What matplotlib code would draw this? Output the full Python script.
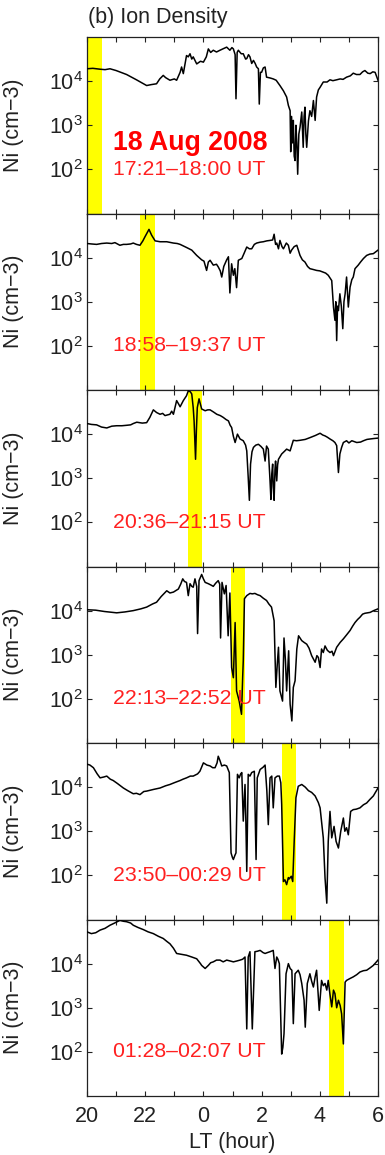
import numpy as np
import matplotlib
matplotlib.use("Agg")
import matplotlib.pyplot as plt

plt.rcParams['font.family'] = ['Liberation Sans', 'DejaVu Sans']
plt.rcParams['mathtext.fontset'] = 'custom'
plt.rcParams['mathtext.rm'] = 'Liberation Sans'
plt.rcParams['mathtext.it'] = 'Liberation Sans:italic'
plt.rcParams['mathtext.bf'] = 'Liberation Sans:bold'

# ---------------- data (LT in hours, 24 = midnight; log10 of Ni) ----------------
lt_p1 = [20.00,20.20,20.45,20.62,20.79,21.00,21.36,21.70,22.05,22.20,22.39,22.50,22.62,22.70,22.85,23.00,23.08,23.20,23.25,23.31,23.42,23.48,23.54,23.60,23.65,23.77,23.90,24.00,24.10,24.17,24.25,24.34,24.45,24.57,24.70,24.80,24.91,24.98,25.03,25.09,25.12,25.16,25.20,25.30,25.37,25.45,25.49,25.55,25.60,25.66,25.72,25.78,25.83,25.89,25.92,25.96,26.00,26.06,26.12,26.17,26.30,26.40,26.50,26.63,26.75,26.86,26.92,26.98,27.00,27.03,27.06,27.09,27.12,27.15,27.18,27.21,27.24,27.28,27.32,27.38,27.43,27.46,27.49,27.52,27.55,27.61,27.66,27.72,27.78,27.84,27.89,27.95,28.01,28.12,28.25,28.35,28.45,28.58,28.70,28.80,28.92,29.05,29.15,29.26,29.38,29.47,29.55,29.65,29.73,29.82,29.90,30.00]
log_p1 = [4.28,4.29,4.27,4.26,4.28,4.24,4.15,4.03,3.90,3.92,3.94,4.05,4.13,4.08,4.02,4.05,4.02,4.20,4.32,4.17,4.58,4.55,4.62,4.50,4.55,4.39,4.45,4.43,4.55,4.73,4.65,4.70,4.66,4.70,4.74,4.77,4.70,4.76,4.73,4.60,3.60,4.65,4.70,4.62,4.62,4.50,4.51,4.60,4.55,4.40,4.47,4.40,4.32,4.28,3.48,4.20,4.20,4.30,4.32,4.09,4.07,4.05,4.02,3.90,3.78,3.64,3.45,3.33,2.40,3.20,2.60,3.11,2.30,2.20,3.00,2.60,1.89,2.80,2.95,3.30,2.50,3.20,3.41,2.80,2.50,3.10,3.33,3.20,3.56,3.11,3.64,3.80,3.86,3.98,3.98,4.03,4.01,4.03,4.05,4.04,4.09,4.12,4.18,4.15,4.15,4.21,4.24,4.18,4.17,4.21,4.20,4.02]

lt_p2 = [20.00,20.15,20.33,20.50,20.68,20.85,20.96,21.13,21.25,21.36,21.50,21.59,21.70,21.82,21.92,21.99,22.13,22.22,22.34,22.51,22.74,22.97,23.10,23.20,23.42,23.60,23.77,23.94,24.02,24.11,24.17,24.23,24.34,24.45,24.51,24.58,24.63,24.70,24.74,24.80,24.86,24.91,24.97,25.03,25.08,25.14,25.20,25.32,25.40,25.49,25.58,25.66,25.75,25.83,25.95,26.06,26.18,26.29,26.38,26.43,26.48,26.52,26.58,26.63,26.70,26.75,26.85,26.92,26.98,27.03,27.12,27.21,27.32,27.40,27.49,27.58,27.66,27.78,27.89,28.00,28.12,28.20,28.29,28.41,28.47,28.52,28.55,28.58,28.61,28.64,28.69,28.74,28.79,28.83,28.87,28.92,28.98,29.04,29.10,29.15,29.21,29.32,29.40,29.50,29.61,29.72,29.84,30.00]
log_p2 = [4.32,4.31,4.30,4.32,4.33,4.32,4.34,4.28,4.30,4.30,4.31,4.33,4.30,4.28,4.38,4.47,4.64,4.51,4.38,4.36,4.36,4.33,4.32,4.30,4.23,4.17,4.05,3.95,3.92,3.71,3.90,3.94,3.83,3.85,3.79,3.70,3.56,3.80,3.86,3.95,4.02,3.20,3.86,3.60,3.75,3.32,3.94,3.98,4.10,4.24,4.20,4.20,4.30,4.33,4.35,4.36,4.38,4.39,4.40,4.53,4.30,4.33,4.20,4.39,4.25,4.20,4.33,4.28,4.10,4.17,4.25,4.28,4.05,3.95,3.90,3.80,3.75,3.73,3.71,3.70,3.67,3.65,3.60,3.48,2.88,2.58,3.00,2.12,2.90,2.80,3.18,2.90,2.39,3.00,3.18,3.56,2.88,3.33,3.50,3.56,3.75,3.83,3.90,3.98,4.05,4.08,4.09,4.17]

lt_p3 = [20.00,20.15,20.33,20.50,20.68,20.85,21.02,21.20,21.36,21.50,21.59,21.71,21.90,22.05,22.16,22.28,22.39,22.51,22.60,22.68,22.85,22.91,22.97,23.08,23.15,23.20,23.31,23.42,23.48,23.55,23.60,23.65,23.68,23.73,23.76,23.79,23.85,23.94,24.06,24.15,24.23,24.35,24.46,24.58,24.68,24.78,24.86,24.92,24.97,25.03,25.09,25.17,25.26,25.37,25.45,25.49,25.54,25.58,25.62,25.67,25.72,25.80,25.89,25.98,26.06,26.12,26.17,26.23,26.29,26.32,26.35,26.38,26.40,26.43,26.46,26.48,26.52,26.55,26.58,26.69,26.80,26.86,26.98,27.09,27.20,27.32,27.50,27.66,27.85,28.01,28.10,28.18,28.26,28.35,28.45,28.52,28.58,28.64,28.69,28.75,28.81,28.92,29.00,29.10,29.27,29.40,29.50,29.62,29.73,29.85,30.00]
log_p3 = [4.24,4.22,4.21,4.16,4.14,4.18,4.19,4.19,4.20,4.21,4.24,4.27,4.25,4.26,4.38,4.55,4.49,4.45,4.47,4.42,4.45,4.52,4.45,4.76,4.68,4.62,4.76,4.87,4.98,4.96,4.91,4.60,4.30,3.43,4.10,4.60,4.80,4.57,4.53,4.55,4.55,4.50,4.45,4.42,4.38,4.33,4.30,4.20,4.15,3.95,3.81,4.00,3.89,3.85,3.75,3.62,3.02,2.50,3.32,3.60,3.70,3.75,3.77,3.72,3.66,3.39,3.73,3.66,2.94,2.52,3.10,3.32,2.80,2.50,3.20,3.39,2.94,3.30,3.43,3.55,3.62,3.66,3.62,3.86,3.85,3.86,3.88,3.92,3.97,4.02,3.98,3.96,3.93,3.89,3.85,3.81,3.74,3.13,3.55,3.70,3.81,3.85,3.80,3.85,3.81,3.82,3.85,3.88,3.89,3.90,3.91]

lt_p4 = [20.00,20.30,20.60,21.02,21.30,21.59,21.85,22.05,22.25,22.39,22.55,22.74,22.85,22.97,23.14,23.22,23.29,23.35,23.42,23.48,23.54,23.60,23.65,23.71,23.77,23.80,23.85,23.94,24.00,24.06,24.17,24.26,24.34,24.42,24.51,24.56,24.59,24.64,24.72,24.78,24.85,24.91,24.97,25.03,25.09,25.14,25.23,25.31,25.35,25.37,25.41,25.49,25.60,25.68,25.77,25.86,25.95,26.06,26.17,26.25,26.34,26.43,26.49,26.54,26.58,26.63,26.72,26.77,26.82,26.86,26.93,26.98,27.04,27.09,27.15,27.21,27.27,27.38,27.46,27.55,27.63,27.72,27.84,27.90,27.95,28.01,28.06,28.12,28.18,28.26,28.35,28.42,28.47,28.58,28.70,28.81,28.92,29.04,29.13,29.21,29.30,29.38,29.47,29.55,29.64,29.73,29.85,30.00]
log_p4 = [4.02,4.01,3.98,3.95,3.97,4.00,4.04,4.08,4.15,4.19,4.32,4.45,4.40,4.42,4.49,4.60,4.72,4.66,4.64,4.34,4.61,4.55,4.53,4.72,4.55,3.48,4.68,4.82,4.72,4.64,4.61,4.58,4.55,4.62,4.68,4.60,3.38,4.64,4.38,4.57,3.43,4.40,2.71,2.48,3.73,2.18,1.95,1.65,2.50,2.86,4.27,4.34,4.39,4.38,4.39,4.36,4.34,4.28,4.23,4.15,4.08,3.77,2.26,2.80,3.17,2.18,1.95,3.38,2.86,2.18,3.09,1.88,1.50,2.26,2.41,3.13,3.43,3.32,3.28,3.24,3.15,2.98,2.83,2.98,2.94,2.71,3.13,3.05,3.20,3.10,3.05,3.08,2.98,3.17,3.28,3.36,3.45,3.55,3.65,3.73,3.80,3.85,3.92,3.94,3.95,3.96,4.00,4.04]

lt_p5 = [20.00,20.10,20.22,20.35,20.45,20.58,20.68,20.80,20.90,21.05,21.25,21.40,21.59,21.70,21.82,21.95,22.05,22.30,22.51,22.70,22.85,23.00,23.20,23.30,23.42,23.55,23.65,23.80,23.88,24.00,24.12,24.23,24.32,24.40,24.47,24.51,24.57,24.63,24.72,24.80,24.89,24.95,25.00,25.03,25.08,25.12,25.17,25.23,25.28,25.32,25.37,25.43,25.46,25.49,25.54,25.60,25.66,25.75,25.81,25.85,25.95,26.05,26.12,26.18,26.23,26.29,26.35,26.40,26.46,26.54,26.61,26.66,26.69,26.75,26.80,26.86,26.92,26.95,27.02,27.07,27.12,27.18,27.26,27.38,27.50,27.61,27.72,27.84,27.95,28.01,28.12,28.18,28.24,28.29,28.35,28.41,28.49,28.56,28.64,28.72,28.81,28.86,28.92,28.98,29.06,29.15,29.25,29.38,29.50,29.61,29.72,29.84,30.00]
log_p5 = [4.52,4.50,4.44,4.30,4.21,4.23,4.25,4.18,4.15,4.08,3.98,3.92,3.85,3.86,3.83,3.90,3.91,3.95,3.98,4.03,4.06,4.10,4.15,4.18,4.21,4.25,4.25,4.30,4.36,4.55,4.50,4.48,4.44,4.44,4.55,4.70,4.60,4.48,4.50,4.48,4.33,2.51,2.40,2.36,2.45,2.51,4.29,4.21,4.30,4.33,3.23,4.06,3.20,2.09,4.29,4.25,4.33,4.36,2.36,4.21,4.40,4.45,4.50,3.92,3.15,4.21,4.25,3.53,4.21,4.25,4.25,4.10,3.61,1.86,1.90,1.79,1.95,1.92,1.98,1.86,2.77,3.76,4.02,4.06,4.00,3.92,3.88,3.80,3.65,3.53,2.85,1.94,1.37,2.77,3.45,2.85,3.11,2.77,2.62,3.00,3.30,3.00,3.08,2.92,3.45,3.49,3.50,3.53,3.60,3.64,3.72,3.80,3.98]

lt_p6 = [20.00,20.15,20.30,20.45,20.62,20.79,20.95,21.13,21.25,21.36,21.50,21.59,21.75,21.94,22.10,22.28,22.45,22.62,22.75,22.85,22.97,23.08,23.25,23.42,23.60,23.77,23.90,23.94,24.06,24.17,24.25,24.34,24.45,24.57,24.68,24.80,24.92,25.03,25.15,25.26,25.35,25.43,25.49,25.54,25.60,25.68,25.77,25.85,25.95,26.05,26.12,26.20,26.29,26.40,26.46,26.52,26.56,26.61,26.69,26.73,26.77,26.84,26.92,26.98,27.04,27.09,27.15,27.26,27.32,27.38,27.46,27.50,27.57,27.66,27.72,27.78,27.84,27.89,27.98,28.06,28.12,28.18,28.24,28.29,28.35,28.41,28.47,28.52,28.58,28.64,28.70,28.75,28.81,28.87,28.92,29.03,29.15,29.27,29.38,29.50,29.61,29.72,29.84,30.00]
log_p6 = [4.72,4.68,4.70,4.76,4.80,4.87,4.92,4.98,4.96,4.95,4.92,4.87,4.82,4.77,4.72,4.68,4.62,4.57,4.50,4.45,4.35,4.23,4.21,4.19,4.15,4.11,4.00,3.96,3.89,3.96,4.02,4.04,4.08,4.08,4.04,4.08,4.06,4.04,4.06,4.08,4.10,4.15,2.52,4.15,4.27,2.52,4.27,4.28,4.30,4.25,4.23,4.25,4.27,4.30,3.89,4.15,4.10,4.00,1.95,2.10,2.41,3.77,4.00,3.89,3.85,2.64,3.77,3.85,3.75,3.55,3.17,2.56,3.55,3.77,3.60,3.47,3.70,3.85,2.94,3.62,3.50,3.55,3.40,3.62,3.30,3.02,3.40,3.32,3.00,3.17,3.05,2.86,2.18,3.58,3.62,3.66,3.70,3.75,3.81,3.84,3.85,3.90,3.96,4.08]

lt_series = [lt_p1, lt_p2, lt_p3, lt_p4, lt_p5, lt_p6]
log_series = [log_p1, log_p2, log_p3, log_p4, log_p5, log_p6]

band_start = [20.00, 21.83, 23.46, 24.94, 26.70, 28.33]
band_end = [20.50, 22.34, 23.94, 25.43, 27.17, 28.83]
ut_labels = ['17:21\u201318:00 UT', '18:58\u201319:37 UT', '20:36\u201321:15 UT',
             '22:13\u201322:52 UT', '23:50\u201300:29 UT', '01:28\u201302:07 UT']
date_label = '18 Aug 2008'

xticks = [20, 22, 24, 26, 28, 30]
xtick_labels = ['20', '22', '0', '2', '4', '6']
yticks = [1e2, 1e3, 1e4]
ytick_labels = [r'$10^2$', r'$10^3$', r'$10^4$']

# ---------------- figure ----------------
W, H = 385, 1155
fig = plt.figure(figsize=(W / 100, H / 100), dpi=100)

left = 87 / W
width = (378 - 87) / W
top_px = 37
bottom_px = 1096
ph = (bottom_px - top_px) / 6

spine_col = '#222222'
txt_col = '#222222'
fs = 15.5
for i in range(6):
    y0 = 1 - (top_px + (i + 1) * ph) / H
    ax = fig.add_axes([left, y0, width, ph / H])
    ax.axvspan(band_start[i], band_end[i], color='#ffff00', lw=0, zorder=1)
    ax.plot(lt_series[i], 10 ** np.array(log_series[i]), color='black', lw=1.1, zorder=3)
    ax.set_yscale('log')
    ax.set_xlim(20, 30)
    ax.set_ylim(10, 1e5)
    ax.set_yticks(yticks)
    ax.set_yticklabels(ytick_labels)
    ax.yaxis.set_minor_locator(matplotlib.ticker.NullLocator())
    ax.set_xticks(xticks)
    ax.set_xticks(np.arange(21, 30, 1), minor=True)
    ax.tick_params(axis='both', which='both', direction='in', top=True, right=True,
                   length=3.5, width=0.8, color=spine_col, labelsize=fs, labelcolor=txt_col)
    ax.tick_params(axis='y', pad=3)
    for s in ax.spines.values():
        s.set_color(spine_col)
        s.set_linewidth(0.9)
    if i < 5:
        ax.set_xticklabels([])
    else:
        ax.set_xticklabels(xtick_labels)
        ax.tick_params(axis='x', pad=7)
        ax.set_xlabel('LT (hour)', fontsize=fs, color=txt_col, labelpad=4)
    ax.set_ylabel('Ni (cm\u22123)', fontsize=fs, color=txt_col)
    ax.yaxis.set_label_coords(-0.215, 0.5)
    ax.text(20.88, 10 ** 2.0, ut_labels[i], color='#ff2020', fontsize=15.3,
            va='center', ha='left', zorder=4)
    if i == 0:
        ax.text(20.88, 10 ** 2.6, date_label, color='#ff0000', fontsize=19.2,
                fontweight='bold', va='center', ha='left', zorder=4)

fig.text(88 / W, 1 - 17 / H, '(b) Ion Density', fontsize=fs, color=txt_col,
         va='center', ha='left')

fig.savefig('out.png', dpi=100)
